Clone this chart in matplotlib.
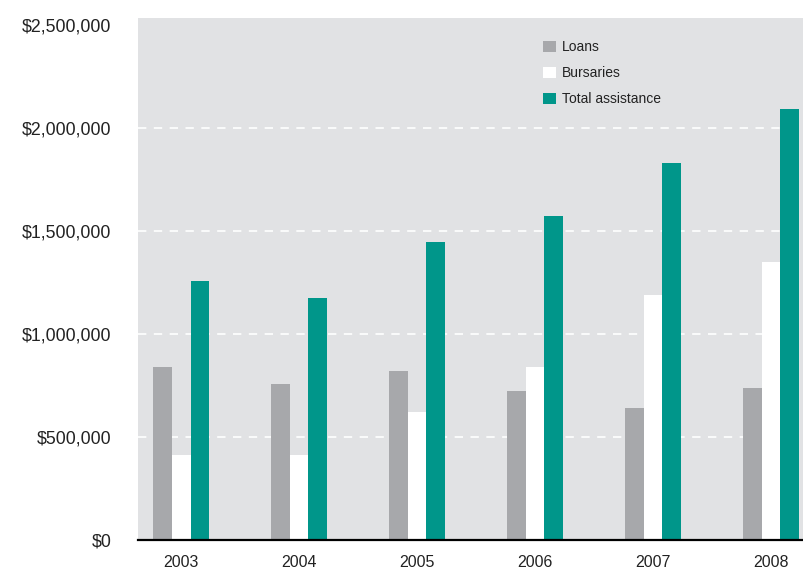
import matplotlib.pyplot as plt
import numpy as np
from matplotlib.ticker import FuncFormatter

plt.rcParams["font.family"] = ["Liberation Sans", "DejaVu Sans"]

years = ["2003", "2004", "2005", "2006", "2007", "2008"]
loans = [840000, 757000, 820000, 723000, 641000, 738000]
bursaries = [413000, 413000, 621000, 840000, 1189000, 1349000]
total_assistance = [1257000, 1175000, 1447000, 1573000, 1830000, 2092000]

y_ticks = [0, 500000, 1000000, 1500000, 2000000, 2500000]
grid_levels = [500000, 1000000, 1500000, 2000000]

c_loans = "#a7a8ab"
c_burs = "#ffffff"
c_total = "#00968a"
c_bg = "#e1e2e4"

fig = plt.figure(figsize=(8.04, 5.75), dpi=100)
ax = fig.add_axes([138 / 804, 35 / 575, 666 / 804, 522 / 575])
ax.set_facecolor(c_bg)

x = np.arange(len(years))
w = 0.16
ax.bar(x - w, loans, w, color=c_loans, label="Loans", zorder=3)
ax.bar(x, bursaries, w, color=c_burs, label="Bursaries", zorder=3)
ax.bar(x + w, total_assistance, w, color=c_total, label="Total assistance", zorder=3)

for g in grid_levels:
    ax.axhline(g, color="white", linewidth=1.2, linestyle=(0, (5, 4.5)), zorder=1)

ax.set_xlim(-0.365, 5.28)
ax.set_ylim(0, 2534000)
ax.set_xticks(x)
ax.set_xticklabels(years)
ax.set_yticks(y_ticks)
ax.yaxis.set_major_formatter(FuncFormatter(lambda v, _: f"${v:,.0f}"))

for s in ["top", "right", "left"]:
    ax.spines[s].set_visible(False)
ax.spines["bottom"].set_color("black")
ax.spines["bottom"].set_linewidth(1.6)
ax.spines["bottom"].set_zorder(4)
ax.tick_params(axis="x", length=0, pad=11, labelsize=11.5, colors="#222222")
ax.tick_params(axis="y", length=0, pad=19, labelsize=12.8, colors="#222222")

leg = ax.legend(loc="upper left", bbox_to_anchor=(0.6005, 0.968), frameon=False,
                fontsize=10, handlelength=0.9, handleheight=0.9,
                handletextpad=0.4, labelspacing=0.86, borderaxespad=0)
for t in leg.get_texts():
    t.set_color("#222222")

fig.savefig("out.png", dpi=100)
